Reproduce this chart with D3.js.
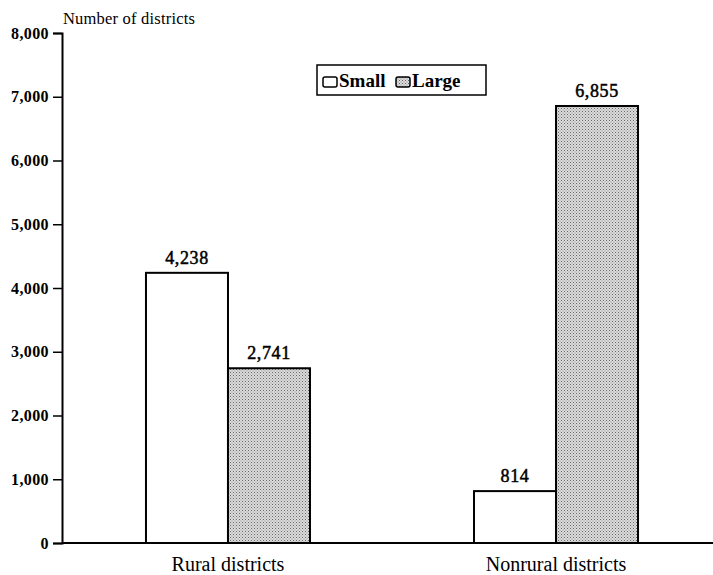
<!DOCTYPE html>
<html><head><meta charset="utf-8">
<script src="https://cdn.jsdelivr.net/npm/d3@7"></script>
<style>body{margin:0;background:#fff;} text{font-family:"Liberation Serif","Times New Roman",serif;fill:#000;}</style>
</head><body>
<svg id="c" width="713" height="575"></svg>
<script>
const categories = ["Rural districts", "Nonrural districts"];
const seriesNames = ["Small", "Large"];
const smallValues = [4238, 814];
const largeValues = [2741, 6855];
const yTicks = [0, 1000, 2000, 3000, 4000, 5000, 6000, 7000, 8000];

const svg = d3.select("#c");
const defs = svg.append("defs");
const pat = defs.append("pattern").attr("id","stip").attr("patternUnits","userSpaceOnUse").attr("width",3).attr("height",3);
pat.append("rect").attr("width",3).attr("height",3).attr("fill","#dcdcdc");
pat.append("rect").attr("x",0).attr("y",0).attr("width",1).attr("height",1).attr("fill","#666");
pat.append("rect").attr("x",1.5).attr("y",1.5).attr("width",1).attr("height",1).attr("fill","#888");

const x0 = 62, xEnd = 713, y0 = 543, yTop = 33;
const y = d3.scaleLinear().domain([0, 8000]).range([y0, yTop]);
const xc = d3.scaleBand().domain(categories).range([x0, 722]).paddingInner(0.5).paddingOuter(0.256);
const xs = d3.scaleBand().domain(seriesNames).range([0, xc.bandwidth()]);
const fills = {Small: "#fff", Large: "url(#stip)"};

const data = categories.map((c, i) => ({cat: c, vals: [{s: "Small", v: smallValues[i]}, {s: "Large", v: largeValues[i]}]}));

const g = svg.selectAll("g.cat").data(data).enter().append("g").attr("transform", d => `translate(${xc(d.cat)},0)`);
g.selectAll("rect").data(d => d.vals).enter().append("rect")
  .attr("x", d => xs(d.s)).attr("y", d => y(d.v))
  .attr("width", xs.bandwidth()).attr("height", d => y0 - y(d.v))
  .attr("fill", d => fills[d.s]).attr("stroke", "#000").attr("stroke-width", 2);
g.selectAll("text.val").data(d => d.vals).enter().append("text")
  .attr("x", d => xs(d.s) + xs.bandwidth()/2).attr("y", d => y(d.v) - 9)
  .attr("text-anchor","middle").style("font-size","18px").style("letter-spacing","0.6px")
  .attr("stroke","#000").attr("stroke-width",0.5).text(d => d3.format(",")(d.v));

// axes
const yAxis = d3.axisLeft(y).tickValues(yTicks).tickFormat(d3.format(",")).tickSize(9).tickPadding(4);
const ya = svg.append("g").attr("transform", `translate(${x0},0)`).call(yAxis);
ya.select(".domain").attr("stroke-width", 2);
ya.selectAll(".tick line").attr("stroke-width", 1.5);
ya.selectAll(".tick text").style("font-size","16px").style("font-weight","bold").style("letter-spacing","0.4px").style("font-family","'Liberation Serif',serif");

const xAxis = d3.axisBottom(xc).tickSize(0).tickPadding(14);
const xa = svg.append("g").attr("transform", `translate(0,${y0})`).call(xAxis);
xa.select(".domain").attr("stroke-width", 2).attr("d", `M${x0},0H${xEnd}`);
xa.selectAll(".tick text").style("font-size","20px").style("font-family","'Liberation Serif',serif");

svg.append("text").attr("x", 63).attr("y", 24).style("font-size","16.5px").style("letter-spacing","0.2px").text("Number of districts");

// legend
const lg = svg.append("g").attr("transform","translate(317,65)");
lg.append("rect").attr("width",169).attr("height",30).attr("fill","#fff").attr("stroke","#000").attr("stroke-width",1.5);
const items = lg.selectAll("g.item").data(seriesNames).enter().append("g").attr("transform",(d,i)=>`translate(${6 + i*73},0)`);
items.append("rect").attr("x",0).attr("y",12).attr("width",14).attr("height",10).attr("rx",2).attr("fill",d=>fills[d]).attr("stroke","#000").attr("stroke-width",1.5);
items.append("text").attr("x",16).attr("y",22).style("font-size","19px").style("font-weight","bold").text(d=>d);
</script>
</body></html>
